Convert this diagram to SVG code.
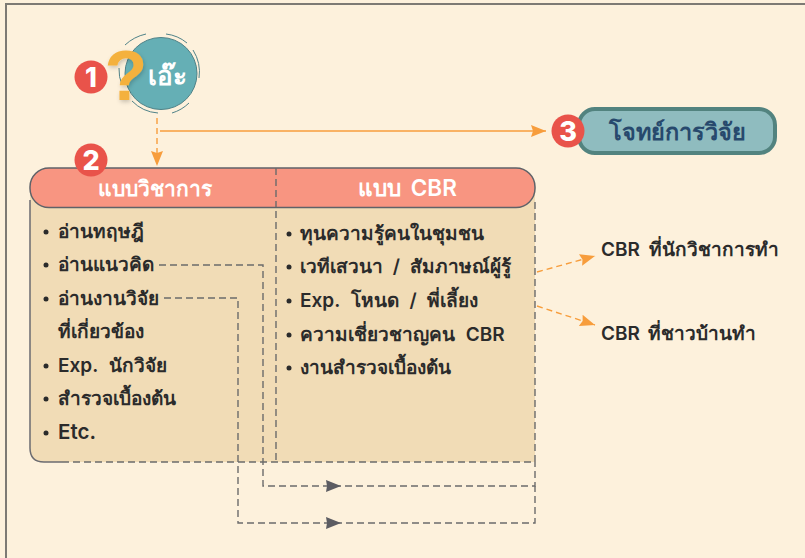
<svg xmlns="http://www.w3.org/2000/svg" width="805" height="558" viewBox="0 0 805 558">
<style>
text{font-family:"Inter","Noto Sans","Liberation Sans",sans-serif;}
.b{font-size:19px;font-weight:600;fill:#2b2b2b;}
.h{font-size:21px;font-weight:600;fill:#fff;}
.n{font-size:27px;font-weight:800;fill:#fff;text-anchor:middle;}
.d{fill:#e9534a;}
.dot{fill:#2b2b2b;}
.gd{fill:none;stroke:#6b6b6b;stroke-width:1.4;stroke-dasharray:7 4;}
.od{fill:none;stroke:#f79d3c;stroke-width:1.4;stroke-dasharray:6 4;}
.ring{fill:none;stroke:#4f8288;stroke-width:1;}
</style>
<defs>
<marker id="ga" markerWidth="16" markerHeight="12" refX="15" refY="6" orient="auto" markerUnits="userSpaceOnUse"><path d="M0 0L15 6L0 12L1 6Z" fill="#5c5c62"/></marker>
<marker id="oa" markerWidth="16" markerHeight="14" refX="15" refY="7" orient="auto" markerUnits="userSpaceOnUse"><path d="M0 1L15 7L0 13L2 7Z" fill="#f79d3c"/></marker>
<filter id="sh" x="-30%" y="-30%" width="160%" height="160%"><feDropShadow dx="1" dy="2" stdDeviation="2" flood-color="#000" flood-opacity="0.2"/></filter>
</defs>
<rect width="805" height="558" fill="#fdf1dc"/>
<path d="M6 558V4H805" fill="none" stroke="#7d7a74" stroke-width="2"/>
<g id="panel">
<path d="M30 188H535V462H44Q30 462 30 448Z" fill="#f1dcb6"/>
<path d="M30 200V448Q30 462 44 462H62" fill="none" stroke="#6b6b70" stroke-width="1.500"/>
<path d="M62 462H535V200M276 200V462" class="gd"/>
<rect x="30" y="168" width="505" height="39.500" rx="19" fill="#f89581" stroke="#5f6268" stroke-width="1.500"/>
<path d="M276 168V207" class="gd"/>
<text class="h" x="155" y="196" text-anchor="middle">แบบวิชาการ</text>
<text class="h" x="407.500" y="196" text-anchor="middle" word-spacing="4" style="font-size:22.500px">แบบ CBR</text>
</g>
<g id="connectors">
<path d="M157 118V166" class="od" marker-end="url(#oa)"/>
<path d="M160 131H546" fill="none" stroke="#f79d3c" stroke-width="1.400" marker-end="url(#oa)"/>
<path d="M537 272L595 256" class="od" marker-end="url(#oa)"/>
<path d="M537 306L595 325" class="od" marker-end="url(#oa)"/>
<path d="M159 265H263V486H535V462" class="gd"/>
<path d="M164 298H238V523H535V486" class="gd"/>
<path d="M325 486H341" fill="none" stroke="none" marker-end="url(#ga)"/>
<path d="M325 523H341" fill="none" stroke="none" marker-end="url(#ga)"/>
</g>
<g id="node-eo">
<circle cx="161" cy="73.500" r="36" fill="#65afb5" stroke="#4f8288"/>
<path class="ring" d="M125 45A45 45 0 0 1 146 34M166 34A40 40 0 0 1 187 43M193 50A41 41 0 0 1 199 78M189 103A41 41 0 0 1 172 113M158 113A40 40 0 0 1 132 101M122 85A40 40 0 0 1 119 68"/>
<text x="167" y="85" text-anchor="middle" font-size="26" font-weight="700" fill="#fff">เอ๊ะ</text>
<text x="126" y="100" text-anchor="middle" font-size="70" font-weight="700" fill="#f4b13d" filter="url(#sh)" style="font-family:'Liberation Sans',sans-serif">?</text>
</g>
<g id="badge-1"><circle class="d" cx="91" cy="77" r="16.500"/><text class="n" x="91" y="87">1</text></g>
<g id="badge-2"><circle class="d" cx="91" cy="160" r="16.500"/><text class="n" x="91" y="170">2</text></g>
<g id="node-goal">
<rect x="579" y="109" width="196" height="44" rx="16" fill="#8fbcbf" stroke="#52837f" stroke-width="4"/>
<text x="677" y="140" text-anchor="middle" font-size="23.500" font-weight="600" fill="#27496d">โจทย์การวิจัย</text>
</g>
<g id="badge-3"><circle class="d" cx="568" cy="131" r="16.500"/><text class="n" x="568" y="141">3</text></g>
<g id="list-academic">
<circle class="dot" cx="46" cy="232" r="2.500"/><text class="b" x="58" y="238">อ่านทฤษฎี</text>
<circle class="dot" cx="46" cy="265" r="2.500"/><text class="b" x="58" y="271">อ่านแนวคิด</text>
<circle class="dot" cx="46" cy="299" r="2.500"/><text class="b" x="58" y="305">อ่านงานวิจัย</text>
<text class="b" x="58" y="338">ที่เกี่ยวข้อง</text>
<circle class="dot" cx="46" cy="366" r="2.500"/><text class="b" x="58" y="372" word-spacing="6">Exp. นักวิจัย</text>
<circle class="dot" cx="46" cy="399" r="2.500"/><text class="b" x="58" y="405">สำรวจเบื้องต้น</text>
<circle class="dot" cx="46" cy="433" r="2.500"/><text class="b" x="58" y="439" style="font-size:20.500px">Etc.</text>
</g>
<g id="list-cbr">
<circle class="dot" cx="289" cy="234" r="2.500"/><text class="b" x="300" y="240">ทุนความรู้คนในชุมชน</text>
<circle class="dot" cx="289" cy="267" r="2.500"/><text class="b" x="300" y="273" word-spacing="5">เวทีเสวนา / สัมภาษณ์ผู้รู้</text>
<circle class="dot" cx="289" cy="301" r="2.500"/><text class="b" x="300" y="307" word-spacing="6">Exp. โหนด / พี่เลี้ยง</text>
<circle class="dot" cx="289" cy="335" r="2.500"/><text class="b" x="300" y="341" word-spacing="6">ความเชี่ยวชาญคน CBR</text>
<circle class="dot" cx="289" cy="368" r="2.500"/><text class="b" x="300" y="374">งานสำรวจเบื้องต้น</text>
</g>
<g id="label-academic-cbr"><text class="b" x="601" y="256" word-spacing="4">CBR ที่นักวิชาการทำ</text></g>
<g id="label-villager-cbr"><text class="b" x="601" y="340" word-spacing="3">CBR ที่ชาวบ้านทำ</text></g>
</svg>
